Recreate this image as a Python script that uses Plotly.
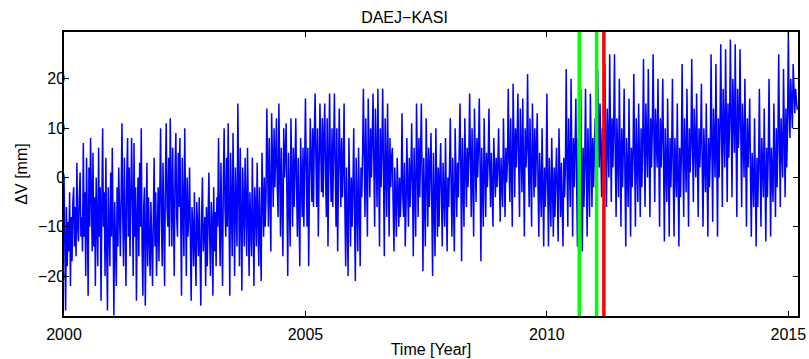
import plotly.graph_objects as go

# Time sampling: 60 samples per year starting at 2000.0
start_year = 2000.0
samples_per_year = 60

# Delta V [mm] values, grouped per 0.2 year (12 values each)
dv_groups = [
    [0, -12, -27, -6, -18, -9, -15, -3, -22, -8, -17, -5],      # 2000.0
    [-2, -14, -6, -16, 3, -10, -13, -4, 1, -12, -8, -15],       # 2000.2
    [7, -12, -3, -20, 4, -8, -24, 2, -10, 8, -6, -15],          # 2000.4
    [5, -14, -4, -22, 0, -9, -18, 6, -12, -2, -25, -6],         # 2000.6
    [10, -10, -3, -20, 4, -14, -27, -2, -8, -18, 1, -12],       # 2000.8
    [6, -16, -28, -5, -12, -22, -2, -14, 2, -9, -16, -4],       # 2001.0
    [11, -8, -18, 4, -10, -22, 0, 8, -12, 2, -16, -6],          # 2001.2
    [8, -6, -20, 7, -12, -2, -25, -8, 0, -16, 3, -10],          # 2001.4
    [10, -14, -24, -6, -2, -26, -10, 3, -18, -4, -12, -20],     # 2001.6
    [-5, -16, -22, -8, 4, -14, -3, -20, -10, -2, -17, -7],      # 2001.8
    [10, -8, -18, 3, -12, -22, 0, 11, -6, -10, 4, -14],         # 2002.0
    [12, -4, -14, 6, -10, -20, 2, 9, -8, -12, 5, -6],           # 2002.2
    [8, -10, -24, 4, -6, -16, 10, -4, -20, 0, -12, -8],         # 2002.4
    [2, -12, -25, -6, -10, -18, -3, -14, -22, -5, -9, -16],     # 2002.6
    [-4, -14, -26, -8, 0, -15, -10, -8, -22, -6, -18, -11],     # 2002.8
    [1, -12, -20, -5, -9, -24, -2, -15, -7, -18, -4, -10],      # 2003.0
    [8, -8, -18, 3, -12, -22, 0, 10, -6, -12, 4, -10],          # 2003.2
    [11, -6, -24, 5, -10, -16, 9, -2, -20, 2, -8, -14],         # 2003.4
    [15, -4, -18, 6, -12, -23, 2, -8, -14, 4, -10, -16],        # 2003.6
    [6, -10, -20, -3, -8, -16, 4, -12, -22, -2, -6, -14],       # 2003.8
    [3, -8, -18, -2, -12, -21, 5, -6, -12, 0, -10, -4],         # 2004.0
    [14, 2, -10, 8, -4, -15, 13, 0, -6, 10, -2, 4],             # 2004.2
    [12, -2, -8, 15, 2, -12, 6, -4, -16, 10, 0, 5],             # 2004.4
    [11, -4, -20, 5, -8, -14, 12, 0, -10, 6, -6, 2],            # 2004.6
    [12, -2, -12, 4, -8, -18, 8, -4, -8, 6, -10, 2],            # 2004.8
    [16, 2, -10, 6, -18, -2, 12, 4, -5, 10, -6, 8],             # 2005.0
    [17, 4, -6, 10, -12, 2, 15, 6, -3, 12, -4, 8],              # 2005.2
    [15, 0, -8, 12, -14, 4, 17, 2, -5, 10, -6, 6],              # 2005.4
    [17, 2, -10, 10, -15, 0, 14, 4, -6, 8, -4, 2],              # 2005.6
    [15, -6, -18, 2, -12, -20, 8, -4, -14, 0, -10, -2],         # 2005.8
    [10, -8, -21, 4, -12, -15, 6, -6, -18, 2, -4, 5],           # 2006.0
    [18, 4, -8, 12, -2, -12, 16, 6, -4, 10, 0, 8],              # 2006.2
    [17, 2, -10, 14, 4, -6, 18, 0, -14, 10, -2, 6],             # 2006.4
    [18, 0, -16, 12, 2, -8, 15, -4, -12, 8, -2, 4],             # 2006.6
    [6, -6, -15, 2, -10, -12, 4, -4, -10, 0, -8, -2],           # 2006.8
    [13, -4, -8, 3, -14, -6, 8, -2, -10, 4, -6, 0],             # 2007.0
    [11, -2, -16, 6, -8, -12, 15, 2, -8, 8, -4, 4],             # 2007.2
    [15, 0, -19, 4, -10, -14, 12, -2, -10, 6, -6, 2],           # 2007.4
    [9, -6, -20, 5, -8, -16, 10, -4, -12, 2, -10, 0],           # 2007.6
    [7, -4, -14, 3, -8, -10, 8, -2, -15, 0, -6, 2],             # 2007.8
    [12, -2, -12, 4, -6, -15, 10, 0, -8, 3, -4, 5],             # 2008.0
    [15, 2, -17, 8, -4, -10, 12, 0, -6, 6, -2, 4],              # 2008.2
    [17, 4, -8, 10, -2, -12, 14, 2, -5, 8, 0, 6],               # 2008.4
    [16, 2, -17, 6, -4, -10, 12, 0, -8, 5, -2, 3],              # 2008.6
    [14, 2, -6, 5, -4, -10, 8, 0, -4, 4, -2, 2],                # 2008.8
    [10, 0, -9, 4, -3, -6, 12, 2, -8, 6, -1, 3],                # 2009.0
    [18, 4, -5, 12, 0, -10, 19, 6, -4, 10, 2, 8],               # 2009.2
    [17, 2, -8, 14, 4, -3, 16, 0, -12, 10, 2, 6],               # 2009.4
    [21, 4, -6, 12, 0, -10, 15, 2, -4, 10, -2, 6],              # 2009.6
    [13, -2, -12, 5, -6, -8, 10, -4, -14, 2, -6, 0],            # 2009.8
    [17, -2, -14, 4, -6, -10, 8, -4, -12, 2, -8, 0],            # 2010.0
    [6, -4, -13, 10, -2, -8, 3, -6, -14, 4, -4, 2],             # 2010.2
    [22, 2, -10, 12, 4, -6, 20, 0, -12, 8, -2, 6],              # 2010.4
    [16, -2, -14, 8, 0, -10, 18, -4, -15, 6, -6, 2],            # 2010.6
    [18, 2, -12, 10, 0, -8, 17, 4, -6, 8, -2, 5],               # 2010.8
    [12, 2, -5, 22, 6, 2, 15, 4, -4, 10, 0, 8],                 # 2011.0
    [23, 6, -6, 14, 4, 0, 25, 8, -5, 12, 2, 10],                # 2011.2
    [25, 4, -8, 12, 0, -4, 20, 2, -10, 10, -2, 6],              # 2011.4
    [18, 0, -14, 8, -4, -6, 16, 2, -12, 6, -2, 4],              # 2011.6
    [21, 4, -10, 12, 0, -5, 15, 2, -8, 10, -2, 6],              # 2011.8
    [24, 6, -6, 15, 4, 0, 22, 8, -8, 12, 2, 10],                # 2012.0
    [25, 8, -5, 14, 6, 2, 20, 4, -10, 12, 2, 9],                # 2012.2
    [20, 2, -13, 10, 0, -5, 16, 4, -12, 8, -2, 5],              # 2012.4
    [20, 0, -12, 8, -2, -4, 15, 2, -14, 6, -4, 4],              # 2012.6
    [23, 4, -8, 12, 0, -3, 18, 6, -10, 10, 1, 7],               # 2012.8
    [24, 6, -5, 14, 2, 0, 17, 4, -8, 10, 2, 8],                 # 2013.0
    [19, 2, -10, 10, 0, -3, 15, 4, -12, 8, -2, 5],              # 2013.2
    [25, 6, -9, 14, 2, 0, 23, 8, -12, 12, 0, 9],                # 2013.4
    [27, 10, -6, 18, 6, 2, 26, 12, -5, 15, 4, 11],              # 2013.6
    [28, 12, -4, 20, 8, 5, 27, 14, -8, 18, 6, 12],              # 2013.8
    [26, 8, -6, 15, 4, 0, 20, 6, -10, 12, 2, 8],                # 2014.0
    [16, 0, -12, 5, -4, -6, 12, -2, -14, 4, -6, 2],             # 2014.2
    [18, 2, -10, 8, -2, -4, 14, 0, -13, 6, -4, 4],              # 2014.4
    [20, 4, -12, 6, 0, -5, 15, 2, -8, 10, -2, 6],               # 2014.6
    [25, 8, -6, 12, 4, 0, 22, 6, -4, 14, 2, 10],                # 2014.8
    [29.5, 14, 8, 20, 12, 10, 23, 16, 13, 18, 14, 13.7],        # 2015.0
]

green_events = [2010.67, 2011.03]
red_events = [2011.18]

title_text = "DAEJ\u2212KASI"
x_label = "Time [Year]"
y_label = "\u0394V [mm]"
x_ticks = [2000, 2005, 2010, 2015]
y_ticks = [-20, -10, 0, 10, 20]

dv = [v for g in dv_groups for v in g]
t = [start_year + i / samples_per_year for i in range(len(dv))]

fig = go.Figure()
fig.add_trace(go.Scatter(x=t, y=dv, mode="lines",
                         line=dict(color="#0000ff", width=1.5),
                         showlegend=False, hoverinfo="skip"))

ymin, ymax = min(dv) - 0.1, max(dv)
for ev in green_events:
    fig.add_trace(go.Scatter(x=[ev, ev], y=[ymin, ymax], mode="lines",
                             line=dict(color="#00ff00", width=3.5),
                             showlegend=False, hoverinfo="skip"))
for ev in red_events:
    fig.add_trace(go.Scatter(x=[ev, ev], y=[ymin, ymax], mode="lines",
                             line=dict(color="#ff0000", width=3.5),
                             showlegend=False, hoverinfo="skip"))

font_family = "Liberation Sans, Arial, Helvetica, sans-serif"
fig.update_layout(
    width=809, height=359,
    margin=dict(l=64, r=11, t=32, b=43),
    paper_bgcolor="white", plot_bgcolor="white",
    font=dict(family=font_family, size=16, color="black"),
    title=dict(text=title_text, x=0.5, xanchor="center",
               y=1 - 17 / 359, yanchor="middle",
               font=dict(size=16, color="black")),
    xaxis=dict(range=[t[0], 2015.2], tickvals=x_ticks,
               ticks="inside", ticklen=5, tickcolor="black",
               showline=True, linecolor="black", linewidth=1.5,
               mirror="ticks", showgrid=False, zeroline=False,
               automargin=False, ticklabelstandoff=3,
               title=dict(text=x_label, standoff=2, font=dict(size=16)),
               tickfont=dict(size=16)),
    yaxis=dict(range=[ymin, ymax], tickvals=y_ticks,
               ticks="inside", ticklen=5, tickcolor="black",
               showline=True, linecolor="black", linewidth=1.5,
               mirror="ticks", showgrid=False, zeroline=False,
               automargin=False, ticklabelstandoff=-6,
               title=dict(text=y_label, standoff=6, font=dict(size=16)),
               tickfont=dict(size=16)),
)

fig.write_html("out.html")
